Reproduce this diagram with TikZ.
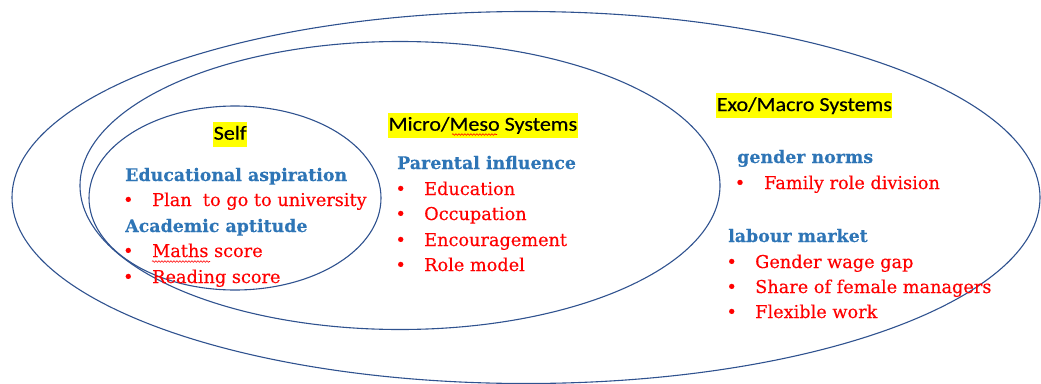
\documentclass[tikz,border=0pt]{standalone}
\usepackage{fontspec}
\setmainfont{DejaVu Serif}
\newfontfamily\itemfont[FakeBold=0.35]{DejaVu Serif}
\newfontfamily\headfont[FakeBold=0.3]{DejaVu Serif Bold}
\newfontfamily\labelfont[FakeStretch=1.11, FakeBold=0.3]{Carlito}
\usetikzlibrary{decorations.pathmorphing}

\definecolor{ringline}{RGB}{47,82,143}
\definecolor{headblue}{RGB}{46,117,182}
\definecolor{itemred}{RGB}{255,0,0}
\definecolor{marker}{RGB}{255,255,0}

\tikzset{
  ring/.style={draw=ringline, line width=1.1pt},
  syslabel/.style={anchor=base west, fill=marker, inner xsep=0.5pt, inner ysep=0pt,
    text height=17.7pt, text depth=7.3pt, font=\labelfont\fontsize{19.9pt}{22pt}\selectfont},
  heading/.style={anchor=base west, inner sep=0pt, text=headblue,
    font=\headfont\fontsize{17.4pt}{20pt}\selectfont},
  item/.style={anchor=base west, inner sep=0pt, text=itemred,
    font=\itemfont\fontsize{17.7pt}{20pt}\selectfont},
  dot/.style={anchor=base, inner sep=0pt, text=itemred,
    font=\itemfont\fontsize{17.7pt}{20pt}\selectfont},
  squiggle/.style={draw=itemred, line width=0.6pt,
    decorate, decoration={snake, amplitude=0.8pt, segment length=3pt}}
}

\begin{document}
\begin{tikzpicture}[x=1pt, y=-1pt]
\useasboundingbox (0,0) rectangle (1041,383);

% nested system rings
\draw[ring] (526,197.5) ellipse [x radius=514pt, y radius=186pt];
\draw[ring] (400,185.5) ellipse [x radius=320pt, y radius=144pt];
\draw[ring] (235,198) ellipse [x radius=146pt, y radius=92pt];

% ring titles
\node[syslabel] (self)  at (213,139.7) {Self};
\node[syslabel] (micro) at (388,130.7) {Micro/Meso Systems};
\node[syslabel] (exo)   at (716,111) {Exo/Macro Systems};

% Self
\node[heading] (asp) at (125,181) {Educational aspiration};
\node[dot]  (b1) at (128.3,206) {•};
\node[item] (plan) at (152,206) {Plan\ \ to go to university};
\node[heading] (apt) at (125,232) {Academic aptitude};
\node[dot]  (b2) at (128.3,257) {•};
\node[item] (maths) at (152,257) {Maths score};
\node[dot]  (b3) at (128.3,283) {•};
\node[item] (read) at (152,283) {Reading score};

% Micro/Meso
\node[heading] (par) at (397,169) {Parental influence};
\node[dot]  (b4) at (400.7,195) {•};
\node[item] (edu) at (424,195) {Education};
\node[dot]  (b5) at (400.7,220) {•};
\node[item] (occ) at (424,220) {Occupation};
\node[dot]  (b6) at (400.7,246) {•};
\node[item] (enc) at (424,246) {Encouragement};
\node[dot]  (b7) at (400.7,271) {•};
\node[item] (role) at (424,271) {Role model};

% Exo/Macro
\node[heading] (gen) at (737,163) {gender norms};
\node[dot]  (b8) at (740,189) {•};
\node[item] (fam) at (764,189) {Family role division};
\node[heading] (lab) at (728,242) {labour market};
\node[dot]  (b9) at (731.7,268) {•};
\node[item] (gap) at (755,268) {Gender wage gap};
\node[dot]  (b10) at (731.7,293) {•};
\node[item] (share) at (755,293) {Share of female managers};
\node[dot]  (b11) at (731.7,318) {•};
\node[item] (flex) at (755,318) {Flexible work};

% spelling marks
\coordinate (m1) at (152,261.5);
\coordinate (m2) at (210,261.5);
\draw[squiggle] (m1) -- (m2);
\coordinate (s1) at (452,134.5);
\coordinate (s2) at (497,134.5);
\draw[squiggle] (s1) -- (s2);
\end{tikzpicture}
\end{document}
